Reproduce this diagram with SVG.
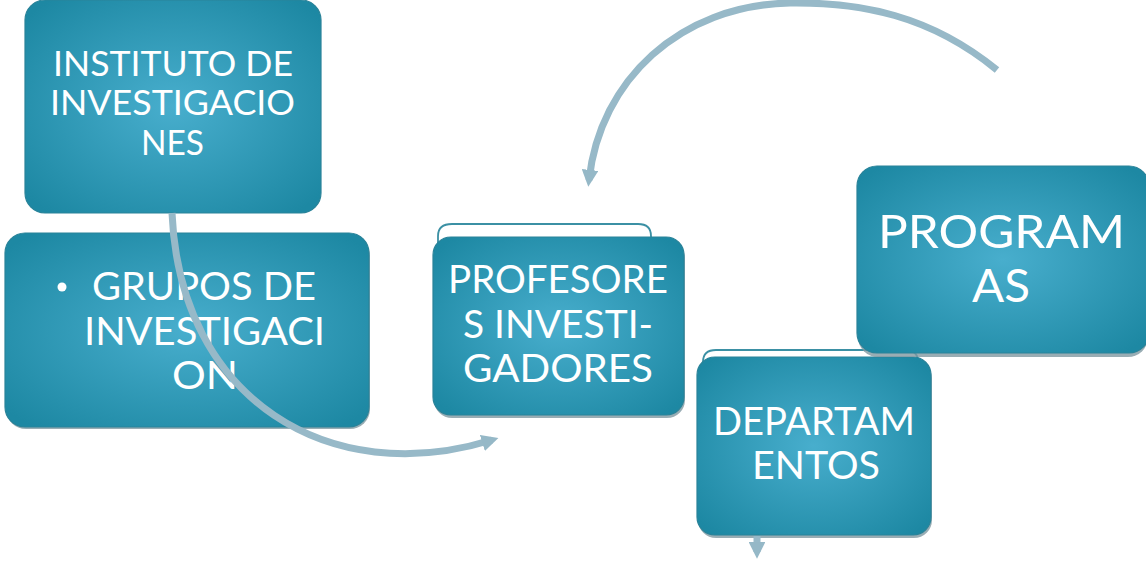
<svg xmlns="http://www.w3.org/2000/svg" width="1146" height="569" viewBox="0 0 1146 569">
<defs>
<radialGradient id="boxg" cx="50%" cy="50%" r="65%">
<stop offset="0%" stop-color="#48aecd"/>
<stop offset="100%" stop-color="#1d88a3"/>
</radialGradient>
<marker id="ah" viewBox="0 0 10 10" refX="6" refY="5" markerWidth="2.4" markerHeight="2.4" orient="auto" markerUnits="strokeWidth">
<path d="M0,0 L10,5 L0,10 Z" fill="#95b8c7"/>
</marker>
<style>
.box{fill:url(#boxg);stroke:#2a8399;stroke-width:1.2}
.shadow{fill:#7f98a1;opacity:0.8}
.tab{fill:#ffffff;stroke:#3b90a4;stroke-width:1.8}
.t{font-family:Lato,"Liberation Sans","DejaVu Sans",sans-serif;fill:#ffffff;}
.conn{fill:none;stroke:#97b9c8;stroke-width:7;stroke-linecap:butt}
</style>
</defs>

<g id="node-instituto">
<rect class="box" x="25" y="0" width="296" height="213" rx="20"/>
<text class="t" font-size="34" x="53" y="76" textLength="240" lengthAdjust="spacingAndGlyphs">INSTITUTO DE</text>
<text class="t" font-size="34" x="50" y="115" textLength="245" lengthAdjust="spacingAndGlyphs">INVESTIGACIO</text>
<text class="t" font-size="34" x="141" y="155" textLength="63" lengthAdjust="spacingAndGlyphs">NES</text>
</g>

<g id="node-grupos">
<rect class="shadow" x="6" y="236" width="364" height="193" rx="20"/>
<rect class="box" x="5" y="233" width="364" height="194" rx="20"/>
<circle cx="62" cy="287" r="4.5" fill="#ffffff"/>
<text class="t" font-size="38" x="92" y="300" textLength="224" lengthAdjust="spacingAndGlyphs">GRUPOS DE</text>
<text class="t" font-size="38" x="84" y="345" textLength="241" lengthAdjust="spacingAndGlyphs">INVESTIGACI</text>
<text class="t" font-size="38" x="172" y="389" textLength="66" lengthAdjust="spacingAndGlyphs">ON</text>
</g>

<g id="node-profesores">
<path class="tab" d="M438,245 L438,236 Q438,224 452,224 L638,224 Q651,224 651,236 L651,245 Z"/>
<rect class="shadow" x="434" y="240" width="251" height="178" rx="18"/>
<rect class="box" x="433" y="237" width="251" height="178" rx="18"/>
<text class="t" font-size="39" x="448" y="293" textLength="220" lengthAdjust="spacingAndGlyphs">PROFESORE</text>
<text class="t" font-size="39" x="463" y="338" textLength="190" lengthAdjust="spacingAndGlyphs">S INVESTI-</text>
<text class="t" font-size="39" x="463" y="382" textLength="190" lengthAdjust="spacingAndGlyphs">GADORES</text>
</g>

<g id="node-departamentos">
<path class="tab" d="M703,370 L703,362 Q703,350 716,350 L905,350 Q918,350 918,362 L918,370 Z"/>
<rect class="shadow" x="698" y="360" width="234" height="178" rx="18"/>
<rect class="box" x="697" y="357" width="234" height="178" rx="18"/>
<text class="t" font-size="38" x="713" y="435" textLength="202" lengthAdjust="spacingAndGlyphs">DEPARTAM</text>
<text class="t" font-size="38" x="752" y="479" textLength="128" lengthAdjust="spacingAndGlyphs">ENTOS</text>
</g>

<g id="node-programas">
<rect class="shadow" x="858" y="170" width="290" height="187" rx="20"/>
<rect class="box" x="857" y="166" width="292" height="187" rx="20"/>
<text class="t" font-size="47" x="878" y="248" textLength="247" lengthAdjust="spacingAndGlyphs">PROGRAM</text>
<text class="t" font-size="47" x="972" y="302" textLength="58" lengthAdjust="spacingAndGlyphs">AS</text>
</g>

<g id="connectors">
<path class="conn" d="M172,213 C180,400 330,490 492,440" marker-end="url(#ah)"/>
<path class="conn" d="M997,70 C930,15 860,2 790,3 C680,5 600,80 589,180" marker-end="url(#ah)"/>
<path class="conn" d="M757,536 L757,552" marker-end="url(#ah)"/>
</g>
</svg>
